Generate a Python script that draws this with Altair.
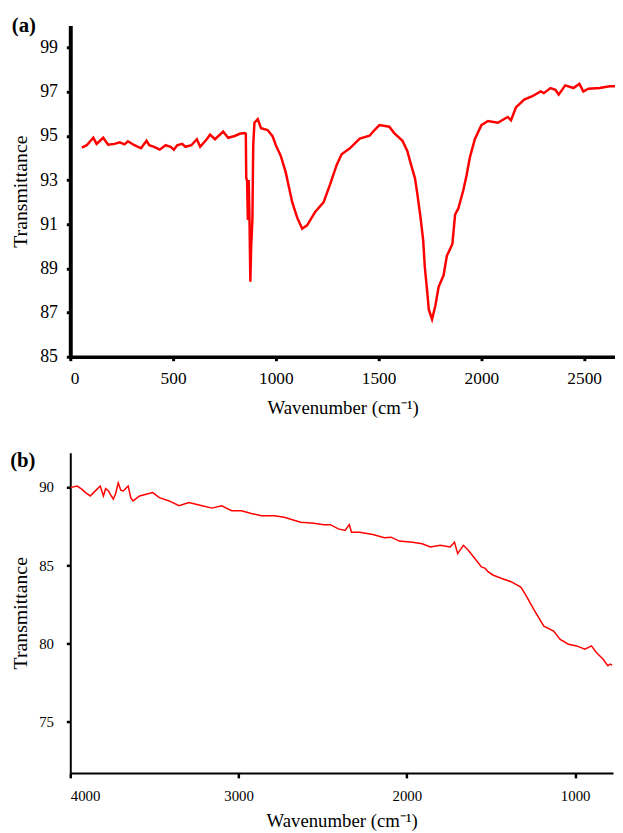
import altair as alt
import pandas as pd

# ---------------- data ----------------
A_WN = [56, 80, 112, 128, 160, 184, 216, 240, 264, 280, 312, 344, 371, 384, 408, 435,
        464, 488, 504, 520, 544, 560, 589, 616, 632, 664, 680, 704, 744, 768, 800, 824,
        848, 854, 856, 860, 864, 868, 872, 876, 880, 886, 890, 896, 912, 928, 960, 984,
        1000, 1024, 1048, 1064, 1080, 1104, 1128, 1152, 1192, 1232, 1264, 1296, 1320,
        1360, 1408, 1456, 1480, 1504, 1552, 1576, 1616, 1640, 1656, 1677, 1688, 1704,
        1717, 1725, 1736, 1744, 1760, 1776, 1792, 1816, 1832, 1859, 1872, 1888, 1912,
        1928, 1944, 1968, 2000, 2032, 2080, 2128, 2144, 2168, 2208, 2248, 2288, 2304,
        2336, 2360, 2376, 2408, 2448, 2477, 2496, 2520, 2576, 2624, 2650]
A_T = [94.47, 94.58, 94.92, 94.64, 94.92, 94.60, 94.64, 94.71, 94.62, 94.76, 94.58,
       94.44, 94.78, 94.58, 94.51, 94.38, 94.58, 94.51, 94.38, 94.58, 94.64, 94.51,
       94.58, 94.85, 94.51, 94.85, 95.06, 94.85, 95.20, 94.92, 95.00, 95.10, 95.13,
       95.10, 93.10, 93.00, 91.20, 93.00, 91.20, 88.40, 90.00, 91.20, 94.60, 95.60,
       95.76, 95.35, 95.27, 94.99, 94.58, 94.10, 93.36, 92.67, 91.99, 91.30, 90.80,
       90.95, 91.57, 91.99, 92.81, 93.69, 94.17, 94.44, 94.88, 95.01, 95.27, 95.49,
       95.42, 95.13, 94.78, 94.31, 93.76, 93.08, 92.40, 91.30, 90.26, 89.03, 88.00,
       87.14, 86.70, 87.31, 88.17, 88.69, 89.57, 90.11, 91.44, 91.72, 92.54, 93.22,
       94.03, 94.85, 95.49, 95.68, 95.60, 95.86, 95.71, 96.29, 96.65, 96.80, 97.02,
       96.94, 97.17, 97.09, 96.87, 97.29, 97.17, 97.36, 97.01, 97.14, 97.17, 97.25, 97.25]

B_WN = [4000, 3959, 3930, 3910, 3881, 3862, 3842, 3822, 3803, 3790, 3773, 3760, 3744,
        3730, 3715, 3700, 3685, 3656, 3640, 3627, 3588, 3549, 3510, 3471, 3412, 3354,
        3295, 3217, 3158, 3100, 3041, 2983, 2924, 2865, 2787, 2729, 2631, 2553, 2494,
        2455, 2407, 2367, 2342, 2329, 2280, 2202, 2133, 2094, 2045, 1967, 1909, 1860,
        1801, 1743, 1717, 1698, 1664, 1635, 1596, 1557, 1534, 1518, 1489, 1440, 1381,
        1323, 1294, 1245, 1186, 1128, 1089, 1040, 991, 942, 903, 874, 835, 806, 792, 780]
B_T = [89.96, 90.06, 89.85, 89.64, 89.43, 89.64, 89.85, 90.06, 89.43, 89.90, 89.75,
       89.50, 89.22, 89.60, 90.27, 89.80, 89.75, 90.06, 89.30, 89.11, 89.43, 89.54,
       89.64, 89.32, 89.11, 88.80, 89.01, 88.80, 88.65, 88.80, 88.48, 88.48, 88.31,
       88.16, 88.16, 88.06, 87.74, 87.68, 87.59, 87.59, 87.32, 87.22, 87.59, 87.11,
       87.11, 86.96, 86.75, 86.79, 86.54, 86.47, 86.37, 86.16, 86.27, 86.16, 86.47,
       85.74, 86.27, 85.95, 85.42, 84.89, 84.79, 84.58, 84.37, 84.16, 83.94, 83.59,
       83.10, 82.15, 81.10, 80.78, 80.25, 79.94, 79.83, 79.62, 79.83, 79.41, 78.99,
       78.56, 78.67, 78.60]

A_YTICKS = [85, 87, 89, 91, 93, 95, 97, 99]
A_XTICKS = [0, 500, 1000, 1500, 2000, 2500]
B_YTICKS = [75, 80, 85, 90]
B_XTICKS = [4000, 3000, 2000, 1000]
PANEL_LABELS = ["(a)", "(b)"]
Y_TITLE = "Transmittance"
X_TITLE = "Wavenumber (cm⁻¹)"

FONT = "Liberation Serif"

dfa = pd.DataFrame({"wn": A_WN, "t": A_T})
dfb = pd.DataFrame({"wn": B_WN, "t": B_T})

# ---------------- panel (a) ----------------
line_a = alt.Chart(dfa).mark_line(color="#ff0000", strokeWidth=2.5, clip=True).encode(
    x=alt.X("wn:Q",
            scale=alt.Scale(domain=[0, 2650], nice=False, zero=False),
            axis=alt.Axis(values=A_XTICKS, format="d", title=X_TITLE,
                          domainWidth=3.5, tickWidth=3, tickSize=4,
                          labelFontSize=17.5, titleFontSize=19,
                          labelPadding=9, titlePadding=12)),
    y=alt.Y("t:Q",
            scale=alt.Scale(domain=[85, 100], nice=False, zero=False),
            axis=alt.Axis(values=A_YTICKS, format="d", title=Y_TITLE,
                          domainWidth=4, tickWidth=3, tickSize=4,
                          labelFontSize=18, titleFontSize=20,
                          labelPadding=9, titlePadding=9)),
)
lab_a = alt.Chart(pd.DataFrame({"s": [PANEL_LABELS[0]]})).mark_text(
    font=FONT, fontSize=21, fontWeight="bold", align="center",
    baseline="middle", color="black"
).encode(x=alt.value(-47), y=alt.value(1), text="s:N")

panel_a = alt.layer(line_a, lab_a).properties(width=551, height=335)

# ---------------- panel (b) ----------------
line_b = alt.Chart(dfb).mark_line(color="#ff0000", strokeWidth=1.5, clip=True).encode(
    x=alt.X("wn:Q",
            scale=alt.Scale(domain=[4000, 775], nice=False, zero=False),
            axis=alt.Axis(values=B_XTICKS, format="d", title=X_TITLE,
                          domainWidth=2, tickWidth=2.5, tickSize=5,
                          labelFontSize=15, titleFontSize=19,
                          labelPadding=11, titlePadding=8)),
    y=alt.Y("t:Q",
            scale=alt.Scale(domain=[71.7, 92.2], nice=False, zero=False),
            axis=alt.Axis(values=B_YTICKS, format="d", title=Y_TITLE,
                          domainWidth=2, tickWidth=2.5, tickSize=4,
                          labelFontSize=15, titleFontSize=20,
                          labelPadding=13, titlePadding=8)),
)
lab_b = alt.Chart(pd.DataFrame({"s": [PANEL_LABELS[1]]})).mark_text(
    font=FONT, fontSize=21, fontWeight="bold", align="center",
    baseline="middle", color="black"
).encode(x=alt.value(-48), y=alt.value(9), text="s:N")

panel_b = alt.layer(line_b, lab_b).properties(width=549, height=324)

chart = alt.vconcat(panel_a, panel_b, spacing=33).configure_view(
    stroke=None
).configure_axis(
    grid=False, domainColor="black", tickColor="black",
    labelColor="black", titleColor="black",
    labelFont=FONT, titleFont=FONT, titleFontWeight="normal"
).properties(
    padding={"left": 2, "top": 3, "right": 0, "bottom": 0},
    background="white"
)

chart.save("out.html", embed_options={"renderer": "svg", "actions": False})
